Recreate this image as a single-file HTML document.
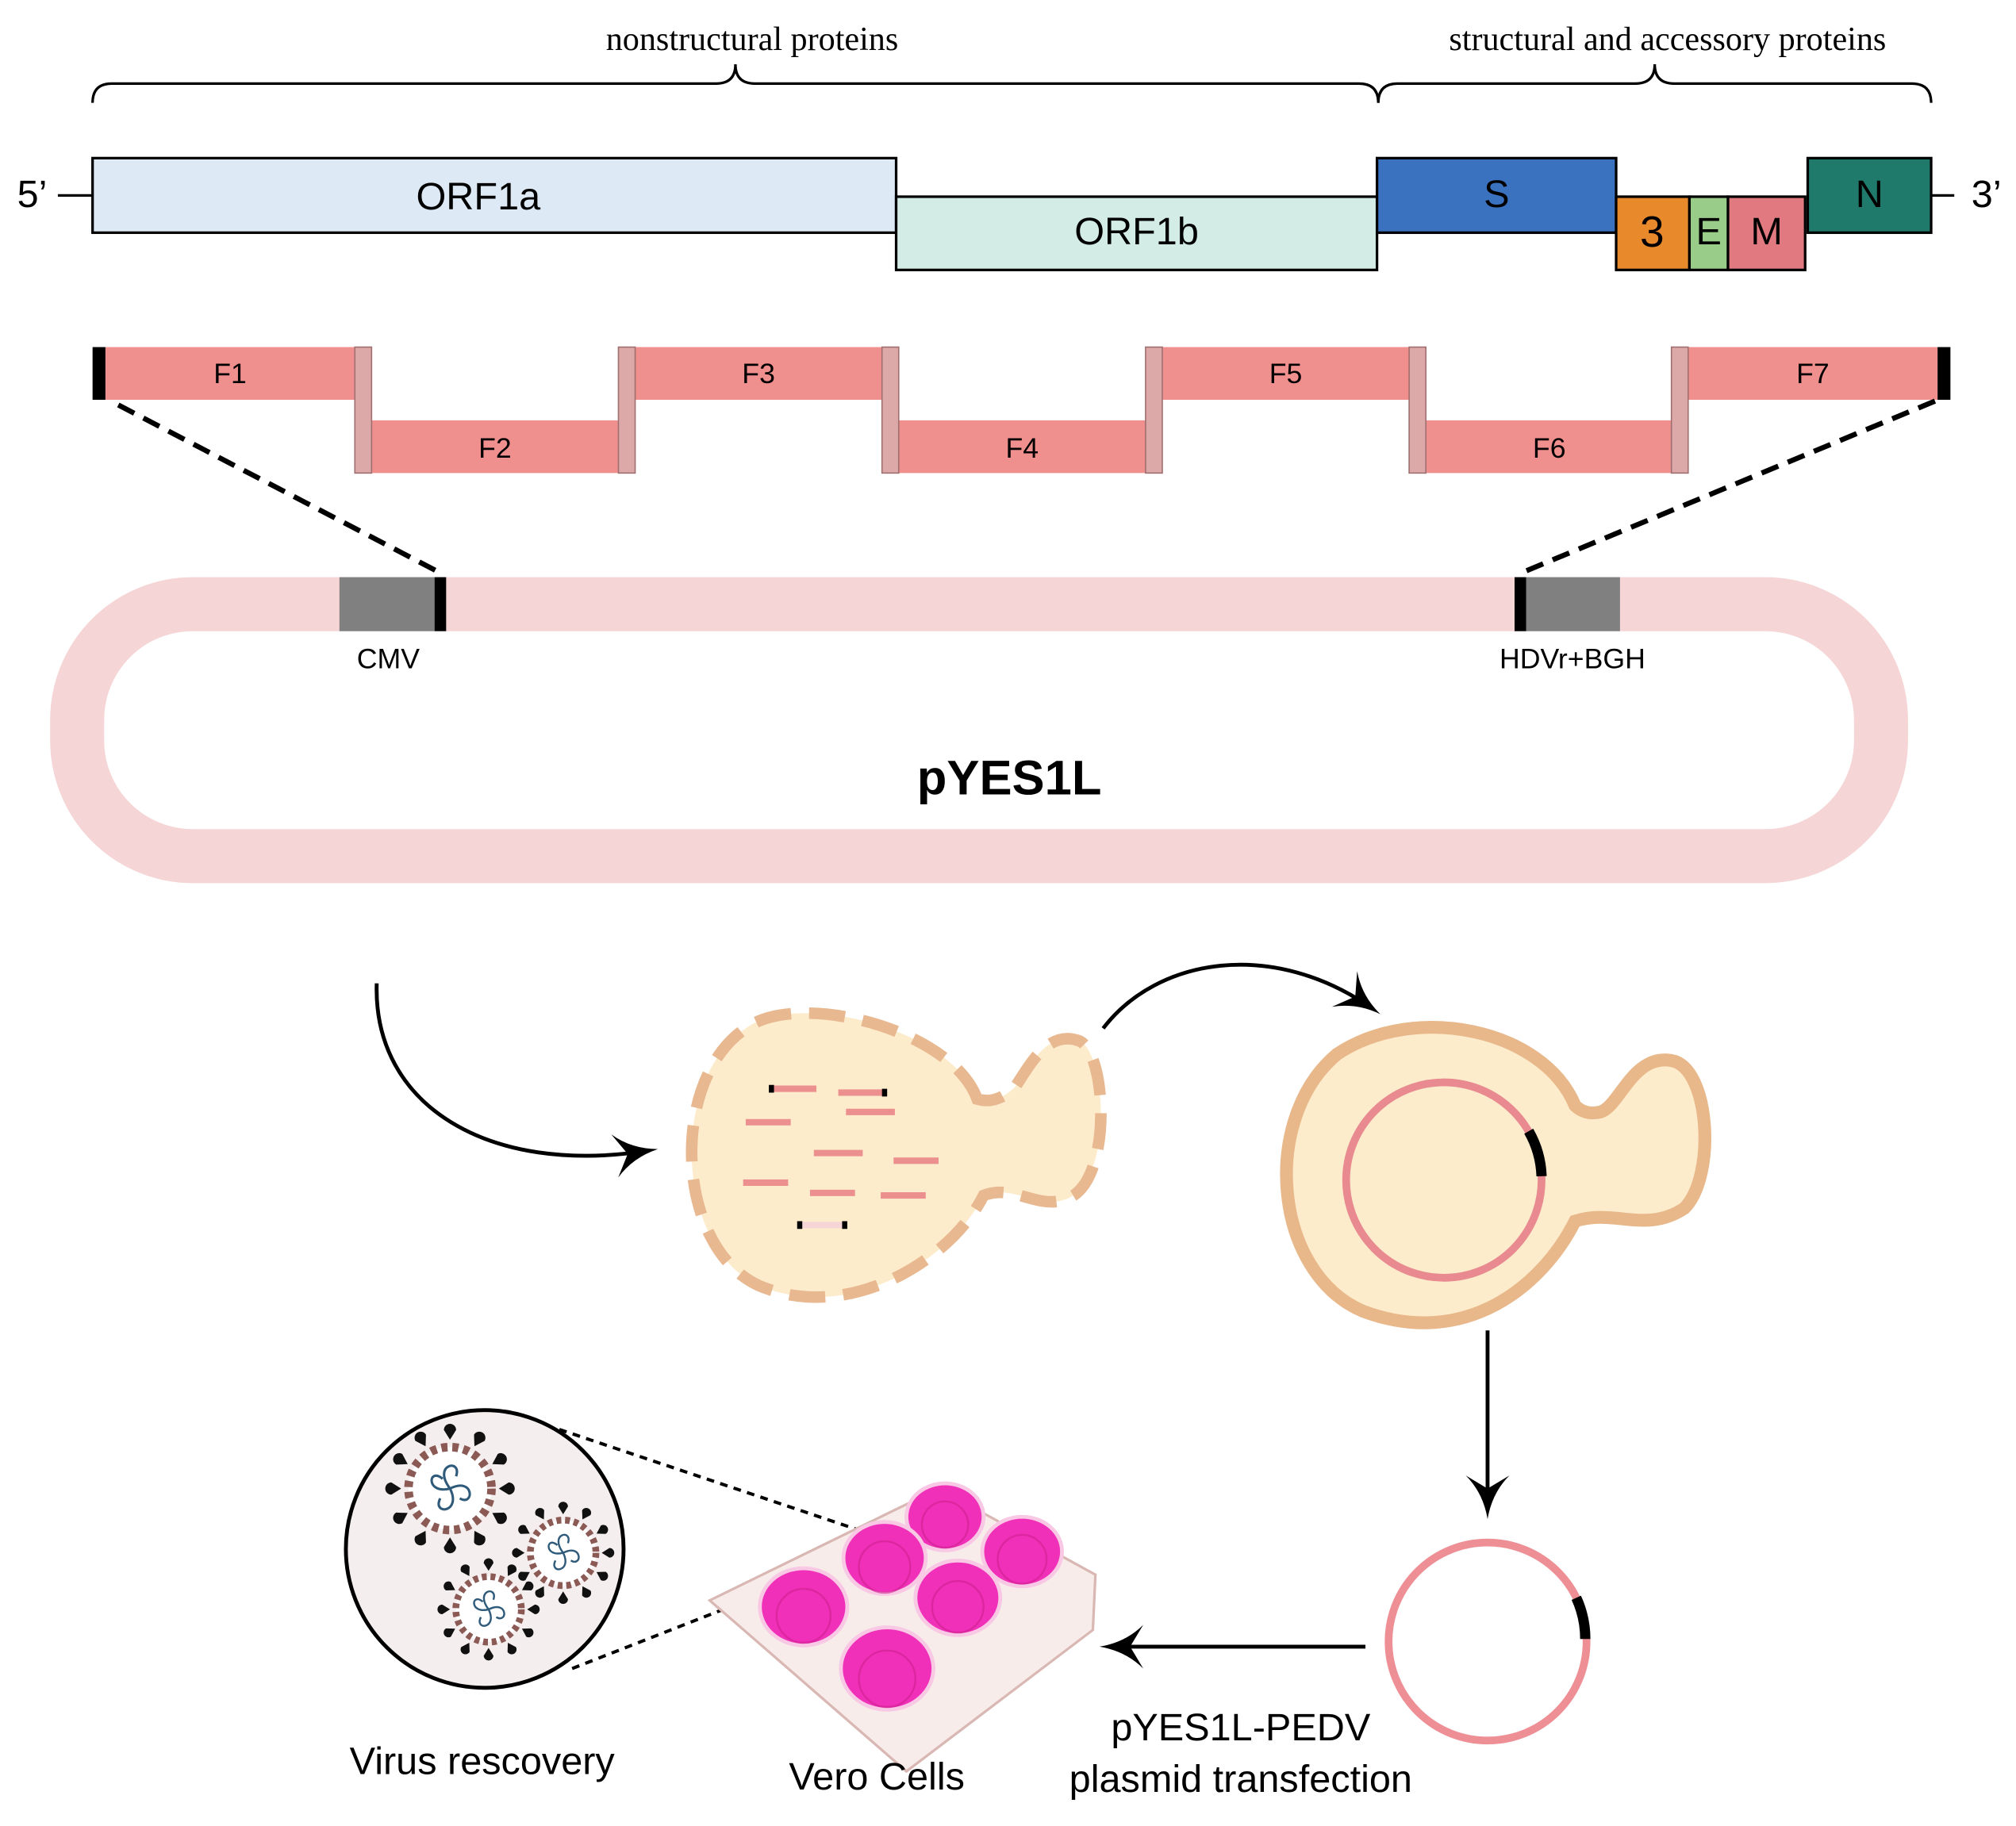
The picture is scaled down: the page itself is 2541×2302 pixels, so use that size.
<!DOCTYPE html>
<html><head><meta charset="utf-8"><style>html,body{margin:0;padding:0;background:#fff}svg{display:block}</style></head>
<body>
<svg width="2541" height="2302" viewBox="0 0 1568 1420.5" xmlns="http://www.w3.org/2000/svg">
<defs>
<marker id="ah" viewBox="0 0 10 10" refX="8" refY="5" markerWidth="17" markerHeight="13" orient="auto" markerUnits="userSpaceOnUse"><path d="M0,0 L10,5 L0,10 L3,5 z" fill="#000"/></marker>
<marker id="ahb" viewBox="0 0 10 10" refX="8" refY="5" markerWidth="45" markerHeight="34" orient="auto" markerUnits="userSpaceOnUse"><path d="M0,0 Q4,4 10,5 Q4,6 0,10 L3,5 z" fill="#000"/></marker>
<g id="vir">
<g fill="#111">
<g id="sp"><path d="M0,-40 l-5,-8 a5,5 0 1 1 10,0 z"/></g>
<use href="#sp" transform="rotate(30)"/><use href="#sp" transform="rotate(60)"/><use href="#sp" transform="rotate(90)"/><use href="#sp" transform="rotate(120)"/><use href="#sp" transform="rotate(150)"/><use href="#sp" transform="rotate(180)"/><use href="#sp" transform="rotate(210)"/><use href="#sp" transform="rotate(240)"/><use href="#sp" transform="rotate(270)"/><use href="#sp" transform="rotate(300)"/><use href="#sp" transform="rotate(330)"/>
</g>
<circle r="34" fill="#fff" stroke="#8b5a55" stroke-width="7" stroke-dasharray="5 4"/>
<g fill="none" stroke="#2f5a7a" stroke-width="2"><path d="M0,0 c-15,-20 10,-25 5,-10 M0,0 c20,-10 20,15 8,8 M0,0 c10,20 -15,22 -8,8 M0,0 c-20,5 -18,-18 -6,-8"/></g>
</g>
</defs>
<g font-family="Liberation Serif, serif" font-size="26" text-anchor="middle">
<text x="585" y="39">nonstructural proteins</text>
<text x="1297" y="39">structural and accessory proteins</text>
</g>
<g fill="none" stroke="#000" stroke-width="2">
<path d="M72,80 q0,-15 15,-15 h470 q15,0 15,-15 q0,15 15,15 h470 q15,0 15,15"/>
<path d="M1072,80 q0,-15 15,-15 h185 q15,0 15,-15 q0,15 15,15 h185 q15,0 15,15"/>
<path d="M45,152 H72 M1502,152 H1520"/>
</g>
<g font-family="Liberation Sans, sans-serif" font-size="30" text-anchor="middle">
<text x="25" y="161">5’</text><text x="1545" y="161">3’</text>
<rect x="72" y="123" width="625" height="58" fill="#dde9f5" stroke="#000" stroke-width="2"/>
<text x="372" y="163">ORF1a</text>
<rect x="697" y="153" width="374" height="57" fill="#d3ece6" stroke="#000" stroke-width="2"/>
<text x="884" y="190">ORF1b</text>
<rect x="1071" y="123" width="186" height="58" fill="#3a72c0" stroke="#000" stroke-width="2"/>
<text x="1164" y="161">S</text>
<rect x="1257" y="153" width="57" height="57" fill="#e8892c" stroke="#000" stroke-width="2"/>
<text x="1285" y="192" font-size="34">3</text>
<rect x="1314" y="153" width="30" height="57" fill="#99cc88" stroke="#000" stroke-width="2"/>
<text x="1329" y="190">E</text>
<rect x="1344" y="153" width="60" height="57" fill="#e07a80" stroke="#000" stroke-width="2"/>
<text x="1374" y="190">M</text>
<rect x="1406" y="123" width="96" height="58" fill="#1f7a6b" stroke="#000" stroke-width="2"/>
<text x="1454" y="161">N</text>
</g>
<g font-family="Liberation Sans, sans-serif" font-size="22" text-anchor="middle">
<rect x="82" y="270" width="194" height="41" fill="#f0908e"/><text x="179" y="298">F1</text>
<rect x="289" y="327" width="192" height="41" fill="#f0908e"/><text x="385" y="356">F2</text>
<rect x="494" y="270" width="192" height="41" fill="#f0908e"/><text x="590" y="298">F3</text>
<rect x="699" y="327" width="192" height="41" fill="#f0908e"/><text x="795" y="356">F4</text>
<rect x="904" y="270" width="192" height="41" fill="#f0908e"/><text x="1000" y="298">F5</text>
<rect x="1109" y="327" width="191" height="41" fill="#f0908e"/><text x="1205" y="356">F6</text>
<rect x="1313" y="270" width="194" height="41" fill="#f0908e"/><text x="1410" y="298">F7</text>
<g fill="#dca8a8" stroke="#a07070" stroke-width="1">
<rect x="276" y="270" width="13" height="98"/><rect x="481" y="270" width="13" height="98"/><rect x="686" y="270" width="13" height="98"/><rect x="891" y="270" width="13" height="98"/><rect x="1096" y="270" width="13" height="98"/><rect x="1300" y="270" width="13" height="98"/>
</g>
<rect x="72" y="270" width="10" height="41" fill="#000"/><rect x="1507" y="270" width="10" height="41" fill="#000"/>
</g>
<g stroke="#000" stroke-width="4" stroke-dasharray="14 8"><path d="M92,315 L345,447 M1505,312 L1180,447"/></g>
<rect x="60" y="470" width="1403" height="196" rx="90" fill="none" stroke="#f5d5d5" stroke-width="42"/>
<rect x="264" y="449" width="74" height="42" fill="#808080"/><rect x="338" y="449" width="9" height="42" fill="#000"/>
<rect x="1187" y="449" width="73" height="42" fill="#808080"/><rect x="1178" y="449" width="9" height="42" fill="#000"/>
<g font-family="Liberation Sans, sans-serif" font-size="22" text-anchor="middle">
<text x="302" y="520">CMV</text><text x="1223" y="520">HDVr+BGH</text>
<text x="785" y="618" font-size="38" font-weight="bold">pYES1L</text>
</g>
<g fill="none" stroke="#000" stroke-width="3">
<path d="M293,765 C290,860 380,915 505,895" marker-end="url(#ahb)"/>
<path d="M858,800 C900,745 990,730 1068,785" marker-end="url(#ahb)"/>
<path d="M1157,1035 V1175" marker-end="url(#ahb)"/>
<path d="M1062,1281 L862,1281" marker-end="url(#ahb)"/>
</g>
<path d="M760,855 C740,800 620,770 580,800 C520,840 525,970 590,1000 C660,1030 740,980 765,930 C790,920 810,945 835,930 C865,910 860,820 840,810 C815,800 800,830 790,845 C780,855 770,858 760,855 Z" fill="#fdeccc" stroke="#e8b890" stroke-width="9" stroke-dasharray="28 14"/>
<g stroke="#ec8f8f" stroke-width="5">
<path d="M600,847 h35 M652,850 h35 M658,865 h38 M580,873 h35 M633,897 h38 M695,903 h35 M578,920 h35 M630,928 h35 M685,930 h35"/>
<path d="M622,953 h35" stroke="#f5d5d5"/>
</g>
<g fill="#000"><rect x="598" y="844" width="4" height="6"/><rect x="686" y="847" width="4" height="6"/><rect x="620" y="950" width="4" height="6"/><rect x="655" y="950" width="4" height="6"/></g>
<path d="M1225,860 C1200,800 1100,780 1040,820 C980,870 990,990 1060,1020 C1140,1050 1200,1000 1225,950 C1255,940 1280,960 1310,940 C1335,915 1330,830 1300,825 C1270,820 1260,860 1245,865 C1237,867 1230,865 1225,860 Z" fill="#fdeccc" stroke="#e8b88a" stroke-width="10"/>
<circle cx="1123" cy="918" r="76" fill="none" stroke="#e88a90" stroke-width="6"/>
<path d="M1189,880 A76,76 0 0 1 1199,915" fill="none" stroke="#000" stroke-width="8"/>
<circle cx="1157" cy="1277" r="77" fill="none" stroke="#ee8f95" stroke-width="6"/>
<path d="M1226,1243 A77,77 0 0 1 1233,1275" fill="none" stroke="#000" stroke-width="8"/>
<circle cx="377" cy="1205" r="108" fill="#f5eeee" stroke="#000" stroke-width="3"/>
<use href="#vir" transform="translate(350,1158) scale(0.95)"/>
<use href="#vir" transform="translate(438,1208) scale(0.75)"/>
<use href="#vir" transform="translate(380,1252) scale(0.75)"/>
<g stroke="#000" stroke-width="2.5" stroke-dasharray="6 5"><path d="M435,1112 L682,1195 M445,1298 L670,1210"/></g>
<path d="M730,1158 L852,1225 L850,1268 L705,1378 L552,1245 Z" fill="#f8ecea" stroke="#d9b8b4" stroke-width="2"/>
<g fill="#f030b8" stroke="#f8c8e4" stroke-width="3">
<ellipse cx="735" cy="1180" rx="30" ry="26"/><ellipse cx="688" cy="1212" rx="32" ry="28"/><ellipse cx="795" cy="1207" rx="31" ry="27"/>
<ellipse cx="625" cy="1250" rx="34" ry="30"/><ellipse cx="745" cy="1243" rx="33" ry="29"/><ellipse cx="690" cy="1298" rx="36" ry="32"/>
</g>
<g fill="none" stroke="#d02090" stroke-width="1.5" opacity="0.6">
<circle cx="735" cy="1186" r="18"/><circle cx="688" cy="1219" r="20"/><circle cx="795" cy="1213" r="19"/><circle cx="625" cy="1257" r="21"/><circle cx="745" cy="1250" r="20"/><circle cx="690" cy="1306" r="22"/>
</g>
<g font-family="Liberation Sans, sans-serif" font-size="30" text-anchor="middle">
<text x="375" y="1380">Virus rescovery</text>
<text x="682" y="1392">Vero Cells</text>
<text x="965" y="1354">pYES1L-PEDV</text>
<text x="965" y="1394">plasmid transfection</text>
</g>
</svg>
</body></html>
